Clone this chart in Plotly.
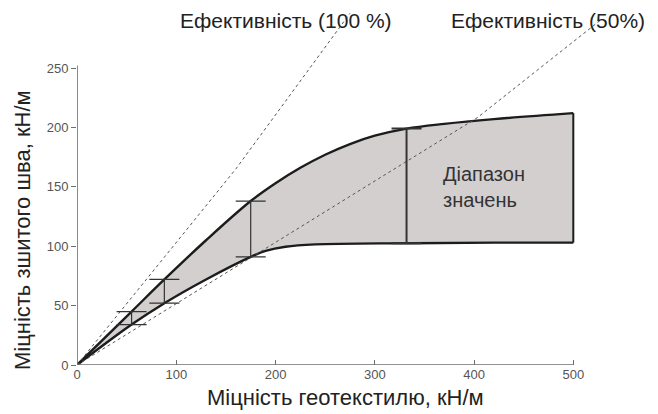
import plotly.graph_objects as go

# ---- data ----
upper_x = [0, 55, 88, 130, 175, 200, 225, 250, 275, 300, 332, 370, 420, 500]
upper_y = [0, 45, 72, 105, 138, 153, 166, 177, 186, 193, 199, 203, 207, 212]
lower_x = [0, 55, 88, 130, 175, 190, 210, 240, 332, 420, 500]
lower_y = [0, 34, 52, 72, 91, 96, 99.5, 101.5, 102.5, 103, 103]

bar_x = [55, 88, 175, 332]
bar_top = [45, 72, 138, 199]
bar_bottom = [34, 52, 91, 102.5]

eff100_x = [0, 160, 275]
eff100_y = [0, 165, 296]
eff50_x = [0, 305, 403, 527]
eff50_y = [0, 157, 208, 290]

x_ticks = [0, 100, 200, 300, 400, 500]
y_ticks = [0, 50, 100, 150, 200, 250]

x_title = "Міцність геотекстилю, кН/м"
y_title = "Міцність зшитого шва, кН/м"
label100 = "Ефективність (100 %)"
label50 = "Ефективність (50%)"
range_label = "Діапазон<br>значень"

FILL = "#d3cfcf"
DARK = "#1c1c1c"
FONT = "Liberation Sans, Arial, sans-serif"

fig = go.Figure()

# shaded range
fig.add_trace(go.Scatter(x=lower_x, y=lower_y, mode="lines",
                         line=dict(color=DARK, width=2.4, shape="spline", smoothing=1),
                         hoverinfo="skip", showlegend=False))
fig.add_trace(go.Scatter(x=upper_x, y=upper_y, mode="lines", fill="tonexty",
                         fillcolor=FILL,
                         line=dict(color=DARK, width=2.4, shape="spline", smoothing=1),
                         hoverinfo="skip", showlegend=False))
# right edge of the range
fig.add_trace(go.Scatter(x=[upper_x[-1], lower_x[-1]], y=[upper_y[-1], lower_y[-1]],
                         mode="lines", line=dict(color=DARK, width=2),
                         hoverinfo="skip", showlegend=False))

# efficiency lines
fig.add_trace(go.Scatter(x=eff100_x, y=eff100_y, mode="lines",
                         line=dict(color="#555555", width=1, dash="3px,3px"),
                         hoverinfo="skip", showlegend=False))
fig.add_trace(go.Scatter(x=eff50_x, y=eff50_y, mode="lines",
                         line=dict(color="#555555", width=1, dash="3px,3px"),
                         hoverinfo="skip", showlegend=False))

# error bars
for i, (bx, bt, bb) in enumerate(zip(bar_x, bar_top, bar_bottom)):
    last = i == len(bar_x) - 1
    fig.add_trace(go.Scatter(
        x=[bx], y=[bb], mode="markers", marker=dict(size=1, color="rgba(0,0,0,0)"),
        error_y=dict(type="data", symmetric=False, array=[bt - bb], arrayminus=[0],
                     color="#333333", thickness=2 if last else 1.2, width=15),
        hoverinfo="skip", showlegend=False))

# axis lines (stop at last tick)
fig.add_shape(type="line", x0=0, x1=0, y0=0, y1=max(y_ticks) + 2,
              line=dict(color="#6e6e6e", width=1.6))
fig.add_shape(type="line", x0=0, x1=max(x_ticks), y0=0, y1=0,
              line=dict(color="#6e6e6e", width=1.6))

fig.add_annotation(x=211, y=290, text=label100, showarrow=False,
                   font=dict(size=21, color="#222222", family=FONT))
fig.add_annotation(x=475, y=290, text=label50, showarrow=False,
                   font=dict(size=21, color="#222222", family=FONT))
fig.add_annotation(x=367, y=150, text=range_label, showarrow=False, align="left",
                   xanchor="left", font=dict(size=20, color="#333333", family=FONT))

fig.add_annotation(xref="paper", yref="paper", x=0.5, y=-0.092,
                   text=x_title, showarrow=False, yanchor="middle", xanchor="center",
                   font=dict(size=22, color="#222222", family=FONT))
fig.add_annotation(xref="paper", yref="paper", x=-0.1026, y=0.378,
                   text=y_title, showarrow=False, textangle=-90, xanchor="center",
                   yanchor="middle",
                   font=dict(size=22, color="#222222", family=FONT))

fig.update_xaxes(range=[0, 540], tickvals=x_ticks, ticktext=[str(v) for v in x_ticks],
                 ticks="inside", ticklen=5, tickcolor="#6e6e6e", tickwidth=1.2,
                 showgrid=False, zeroline=False, showline=False,
                 tickfont=dict(size=13, color="#555555", family=FONT))
fig.update_yaxes(range=[0, 300.5], tickvals=y_ticks, ticktext=[str(v) for v in y_ticks],
                 ticks="outside", ticklen=5, tickcolor="#6e6e6e", tickwidth=1.2,
                 showgrid=False, zeroline=False, showline=False,
                 tickfont=dict(size=13, color="#555555", family=FONT))

fig.update_layout(width=650, height=406, margin=dict(l=69, r=45, t=0, b=49),
                  paper_bgcolor="white", plot_bgcolor="white",
                  font=dict(family=FONT))

fig.write_html("out.html")
